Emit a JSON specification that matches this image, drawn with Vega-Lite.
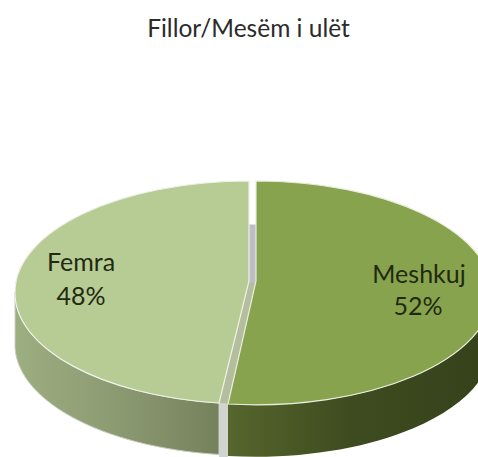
{
  "$schema": "https://vega.github.io/schema/vega-lite/v6.json",
  "width": 478,
  "height": 457,
  "padding": 0,
  "autosize": {"type": "none"},
  "background": "white",
  "title": {"text": "Fillor/Mesëm i ulët", "offset": -42, "anchor": "middle", "frame": "group", "dx": 9.5, "font": "Lato", "fontSize": 24.5, "fontWeight": "normal", "color": "#2b2b2b"},
  "view": {"stroke": null},
  "data": {"values": [
    {"category": "Femra", "value": 48, "label": "48%"},
    {"category": "Meshkuj", "value": 52, "label": "52%"}
  ]},
  "layer": [
    {
      "transform": [{"filter": "datum.category === 'Femra'"}],
      "mark": {"type": "point", "filled": true, "opacity": 1, "size": 4, "clip": true, "stroke": "#c9cdc4", "strokeWidth": 1,
        "shape": "M-224,63.5 A234,111 0 0 0 -20,174.5 L-20,226 A234,111 0 0 1 -224,113.5 Z",
        "fill": {"gradient": "linear", "x1": 0, "x2": 1, "y1": 0, "y2": 0, "stops": [{"offset": 0, "color": "#9dae80"}, {"offset": 0.5, "color": "#8c9a72"}, {"offset": 1, "color": "#75815b"}]}},
      "encoding": {}
    },
    {
      "transform": [{"filter": "datum.category === 'Meshkuj'"}],
      "mark": {"type": "point", "filled": true, "opacity": 1, "size": 4, "clip": true,
        "shape": "M-11,175.5 A236,112 0 0 0 253,63.5 L253,115.5 A236,112 0 0 1 -11,227.5 Z",
        "fill": {"gradient": "linear", "x1": 0, "x2": 1, "y1": 0, "y2": 0, "stops": [{"offset": 0, "color": "#56662d"}, {"offset": 0.45, "color": "#3f4c20"}, {"offset": 1, "color": "#35411a"}]}},
      "encoding": {}
    },
    {
      "transform": [{"filter": "datum.category === 'Femra'"}],
      "mark": {"type": "point", "filled": true, "opacity": 1, "size": 4, "clip": true, "color": "#d2d4d2",
        "shape": "M-20,174.5 L-11,175.5 L-11,230 L-20,230 Z"},
      "encoding": {}
    },
    {
      "transform": [{"filter": "datum.category === 'Femra'"}],
      "mark": {"type": "point", "filled": true, "opacity": 1, "size": 4, "clip": true, "color": "#b4bd9e",
        "shape": "M10,52.5 L17,52.5 L-11,175.5 L-20,174.5 Z"},
      "encoding": {}
    },
    {
      "transform": [{"filter": "datum.category === 'Femra'"}],
      "mark": {"type": "point", "filled": true, "opacity": 1, "size": 4, "clip": true, "color": "#bdbdc6",
        "shape": "M10,-4 L17,-4 L17,54 L10,54 Z"},
      "encoding": {}
    },
    {
      "transform": [{"filter": "datum.category === 'Femra'"}],
      "mark": {"type": "point", "filled": true, "opacity": 1, "size": 4, "clip": true, "color": "#b7cb94", "stroke": "#eef1e6", "strokeWidth": 1.2,
        "shape": "M10,52.5 L10,-47.5 A234,111 0 0 0 -224,63.5 A234,111 0 0 0 -20,174.5 Z"},
      "encoding": {}
    },
    {
      "transform": [{"filter": "datum.category === 'Meshkuj'"}],
      "mark": {"type": "point", "filled": true, "opacity": 1, "size": 4, "clip": true, "color": "#88a34d", "stroke": "#e9edde", "strokeWidth": 1.2,
        "shape": "M17,52.5 L17,-47.5 A236,112 0 0 1 253,63.5 A236,112 0 0 1 -11,175.5 Z"},
      "encoding": {}
    },
    {
      "mark": {"type": "text", "font": "Lato", "fontSize": 25, "color": "#1f2a10", "dx": -158, "dy": 34},
      "transform": [{"filter": "datum.category === 'Femra'"}],
      "encoding": {"text": {"field": "category"}}
    },
    {
      "mark": {"type": "text", "font": "Lato", "fontSize": 25, "color": "#1f2a10", "dx": -158, "dy": 68},
      "transform": [{"filter": "datum.category === 'Femra'"}],
      "encoding": {"text": {"field": "label"}}
    },
    {
      "mark": {"type": "text", "font": "Lato", "fontSize": 25, "color": "#1f2a10", "dx": 180, "dy": 46},
      "transform": [{"filter": "datum.category === 'Meshkuj'"}],
      "encoding": {"text": {"field": "category"}}
    },
    {
      "mark": {"type": "text", "font": "Lato", "fontSize": 25, "color": "#1f2a10", "dx": 179, "dy": 78},
      "transform": [{"filter": "datum.category === 'Meshkuj'"}],
      "encoding": {"text": {"field": "label"}}
    }
  ]
}
